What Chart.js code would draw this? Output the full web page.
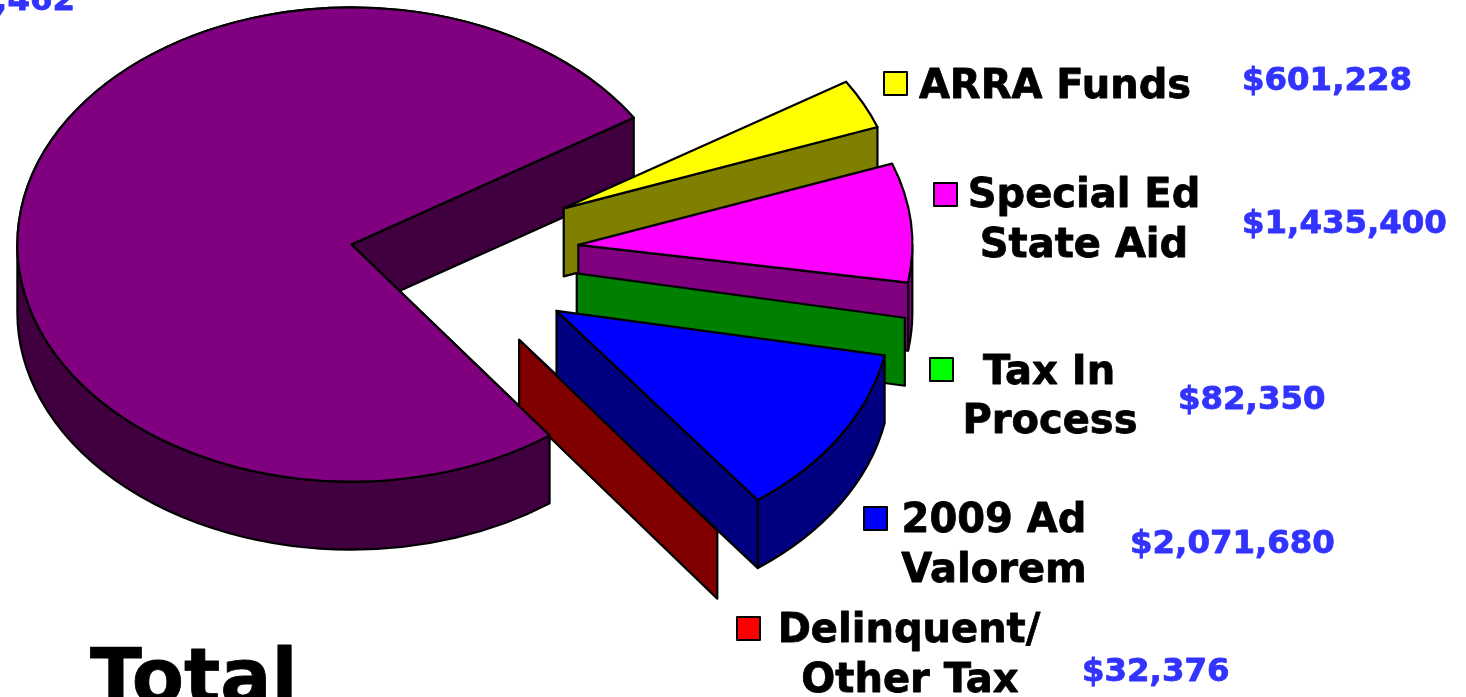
<!DOCTYPE html>
<html>
<head>
<meta charset="utf-8">
<title>Total</title>
<script src="https://cdn.jsdelivr.net/npm/chart.js@4"></script>
<style>
  html, body { margin: 0; padding: 0; background: #fff; overflow: hidden; }
  canvas { display: block; }
</style>
</head>
<body>
<canvas id="grafico" width="1466" height="697"></canvas>
<script>
"use strict";

const categories = ['Other', 'ARRA Funds', 'Special Ed State Aid', 'Tax In Process', '2009 Ad Valorem', 'Delinquent/Other Tax'];
const values = [13477462, 601228, 1435400, 82350, 2071680, 32376];
const valueLabels = ['$13,477,462', '$601,228', '$1,435,400', '$82,350', '$2,071,680', '$32,376'];
const topColors = ['#800080', '#ffff00', '#ff00ff', '#00ff00', '#0000ff', '#ff0000'];
const sideColors = ['#400040', '#808000', '#800080', '#008000', '#000080', '#800000'];
const explode = [80, 149, 149, 149, 149, 149];

// vista 3D
const tilt = 0.71;
const depth = 68;
const lineW = 2.2;
const thinArc = 0.05; // radianes: por debajo no se pinta la pared curva
const labelFont = 'bold 40px "DejaVu Sans"';
const valueFont = 'bold 32.4px "DejaVu Sans"';
const valueColor = '#3333ff';

// leyenda: clave, lineas de texto y valor de cada porcion (la primera sale casi fuera)
const labelBoxes = [
  null,
  { key: [884, 72], lines: [['ARRA Funds', 1055, 98]], value: [1242, 90] },
  { key: [934, 183], lines: [['Special Ed', 1084, 207], ['State Aid', 1084, 257]], value: [1242, 233] },
  { key: [930, 358], lines: [['Tax In', 1049, 384], ['Process', 1050, 433]], value: [1178, 409] },
  { key: [864, 507], lines: [['2009 Ad', 994, 532], ['Valorem', 994, 582]], value: [1130, 553] },
  { key: [737, 617], lines: [['Delinquent/', 909, 642], ['Other Tax', 910, 692]], value: [1082, 681] }
];

// orden de pintado: las caras de las porciones finas quedan tapadas por la pared vecina
const drawSteps = [
  [0, 'walls'], [0, 'top'],
  [1, 'walls'], [1, 'top'],
  [3, 'top'], [2, 'walls'], [2, 'top'], [3, 'walls'],
  [5, 'top'], [4, 'walls'], [4, 'top'], [5, 'walls'],
  [0, 'top']
];

function apexOf(el, i) {
  const mid = (el.startAngle + el.endAngle) / 2;
  return {
    x: el.x + Math.cos(mid) * explode[i],
    y: el.y + Math.sin(mid) * explode[i] * tilt
  };
}

function paintPath(ctx, fill) {
  ctx.fillStyle = fill;
  ctx.fill();
  ctx.lineWidth = lineW;
  ctx.strokeStyle = '#000';
  ctx.lineJoin = 'round';
  ctx.stroke();
}

function drawCutWall(ctx, a, r, ang, fill) {
  const px = a.x + Math.cos(ang) * r;
  const py = a.y + Math.sin(ang) * r * tilt;
  ctx.beginPath();
  ctx.moveTo(a.x, a.y);
  ctx.lineTo(px, py);
  ctx.lineTo(px, py + depth);
  ctx.lineTo(a.x, a.y + depth);
  ctx.closePath();
  paintPath(ctx, fill);
}

function drawOuterWall(ctx, a, r, from, to, fill) {
  ctx.beginPath();
  ctx.ellipse(a.x, a.y, r, r * tilt, 0, from, to);
  ctx.ellipse(a.x, a.y + depth, r, r * tilt, 0, to, from, true);
  ctx.closePath();
  paintPath(ctx, fill);
}

function drawWalls(ctx, el, i) {
  const a = apexOf(el, i);
  const r = el.outerRadius;
  const fill = sideColors[i];
  // solo la mitad delantera de la elipse se ve
  if (el.endAngle - el.startAngle > thinArc) {
    for (let k = -1; k <= 2; k++) {
      const from = Math.max(el.startAngle, 2 * Math.PI * k);
      const to = Math.min(el.endAngle, 2 * Math.PI * k + Math.PI);
      if (to > from) drawOuterWall(ctx, a, r, from, to, fill);
    }
  }
  if (Math.cos(el.startAngle) < 0) drawCutWall(ctx, a, r, el.startAngle, fill);
  if (Math.cos(el.endAngle) > 0) drawCutWall(ctx, a, r, el.endAngle, fill);
}

function drawTop(ctx, el, i) {
  const a = apexOf(el, i);
  const r = el.outerRadius;
  // el relleno lo pinta el propio arco de Chart.js
  ctx.save();
  ctx.translate(a.x, a.y);
  ctx.scale(1, tilt);
  ctx.translate(-el.x, -el.y);
  el.draw(ctx);
  ctx.restore();
  ctx.beginPath();
  ctx.moveTo(a.x, a.y);
  ctx.ellipse(a.x, a.y, r, r * tilt, 0, el.startAngle, el.endAngle);
  ctx.closePath();
  ctx.lineWidth = lineW;
  ctx.strokeStyle = '#000';
  ctx.lineJoin = 'round';
  ctx.stroke();
}

// el original usa una negrita mas gruesa
function heavyText(ctx, text, x, y, color) {
  ctx.fillStyle = color;
  ctx.strokeStyle = color;
  ctx.lineWidth = 0.8;
  ctx.lineJoin = 'round';
  ctx.fillText(text, x, y);
  ctx.strokeText(text, x, y);
}

const pie3d = {
  id: 'pie3d',
  beforeDatasetDraw(chart, args) {
    const ctx = chart.ctx;
    const arcs = args.meta.data;
    ctx.save();
    drawSteps.forEach(([i, part]) => {
      if (part === 'walls') drawWalls(ctx, arcs[i], i);
      else drawTop(ctx, arcs[i], i);
    });
    ctx.restore();
    return false;
  },
  afterDraw(chart) {
    const ctx = chart.ctx;
    ctx.save();
    ctx.textBaseline = 'alphabetic';

    ctx.textAlign = 'right';
    ctx.font = valueFont;
    heavyText(ctx, valueLabels[0], 75, 10, valueColor);

    labelBoxes.forEach((box, i) => {
      if (!box) return;
      ctx.fillStyle = topColors[i];
      ctx.strokeStyle = '#000';
      ctx.lineWidth = 2;
      ctx.fillRect(box.key[0], box.key[1], 23, 23);
      ctx.strokeRect(box.key[0], box.key[1], 23, 23);

      ctx.font = labelFont;
      ctx.textAlign = 'center';
      box.lines.forEach(l => heavyText(ctx, l[0], l[1], l[2], '#000'));

      ctx.font = valueFont;
      ctx.textAlign = 'left';
      heavyText(ctx, valueLabels[i], box.value[0], box.value[1], valueColor);
    });

    ctx.font = 'bold 76px "DejaVu Sans"';
    ctx.textAlign = 'left';
    heavyText(ctx, 'Total', 90, 703, '#000');
    ctx.restore();
  }
};

new Chart(document.getElementById('grafico').getContext('2d'), {
  type: 'pie',
  data: {
    labels: categories,
    datasets: [{
      data: values,
      backgroundColor: topColors,
      borderWidth: 0
    }]
  },
  options: {
    responsive: false,
    animation: false,
    rotation: 143.6,
    radius: 334,
    layout: { padding: { right: 606, bottom: 187 } },
    plugins: {
      legend: { display: false },
      tooltip: { enabled: false }
    }
  },
  plugins: [pie3d]
});
</script>
</body>
</html>
